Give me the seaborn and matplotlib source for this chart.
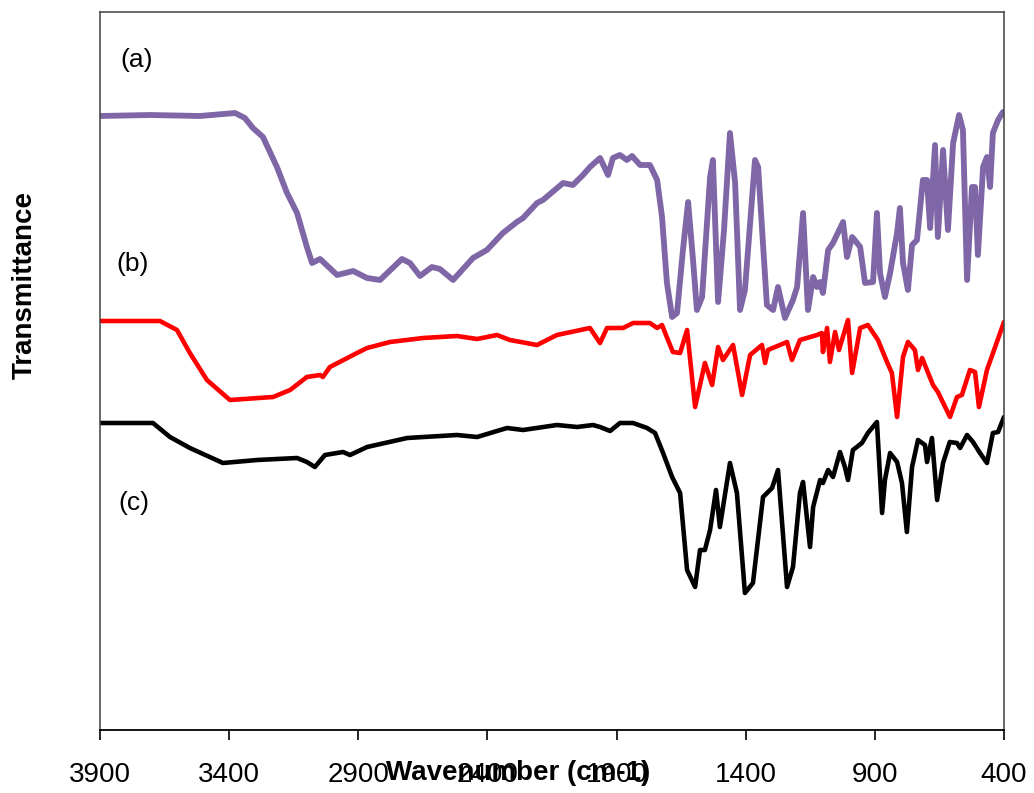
import matplotlib
matplotlib.use("Agg")
import matplotlib.pyplot as plt
import seaborn as sns
import pandas as pd

# ---- data (wavenumber in cm-1, transmittance in arbitrary offset units) ----
wn_a = [3900, 3706, 3513, 3377, 3339, 3308, 3269, 3215, 3176, 3137, 3099, 3079, 3048, 2982,
        2920, 2866, 2816, 2731, 2700, 2661, 2615, 2584, 2533, 2456, 2402, 2340, 2286, 2262,
        2208, 2185, 2107, 2069, 2030, 2003, 1964, 1933, 1914, 1887, 1860, 1840, 1809, 1771,
        1743, 1724, 1705, 1685, 1666, 1643, 1623, 1604, 1589, 1569, 1538, 1527, 1507, 1484,
        1461, 1441, 1422, 1403, 1364, 1352, 1318, 1294, 1275, 1248, 1217, 1201, 1178, 1159,
        1139, 1124, 1112, 1101, 1081, 1062, 1023, 1008, 988, 969, 957, 938, 907, 892, 880,
        861, 841, 814, 803, 791, 772, 756, 737, 714, 698, 686, 667, 656, 636, 617, 597, 574,
        559, 543, 524, 512, 501, 481, 466, 454, 443, 423, 404]
t_a = [614, 615, 614, 617, 612, 602, 593, 563, 537, 517, 483, 467, 471, 455,
       459, 452, 450, 471, 467, 454, 463, 461, 450, 472, 480, 497, 508, 512,
       527, 530, 547, 545, 555, 563, 572, 555, 572, 575, 570, 574, 565, 565,
       550, 513, 447, 413, 417, 480, 528, 470, 420, 433, 553, 570, 428, 500,
       597, 547, 420, 440, 570, 563, 425, 420, 443, 412, 430, 443, 517, 420,
       453, 443, 448, 437, 480, 487, 508, 473, 493, 487, 483, 447, 448, 517, 457,
       433, 457, 497, 522, 467, 440, 485, 490, 550, 550, 502, 585, 493, 580, 500, 587, 615,
       600, 450, 543, 543, 475, 563, 573, 543, 597, 610, 618]

wn_b = [3900, 3668, 3602, 3552, 3486, 3397, 3230, 3164, 3099, 3048, 3037, 3010, 2905, 2866,
        2777, 2649, 2518, 2440, 2363, 2313, 2208, 2131, 2003, 1964, 1937, 1875, 1836, 1771,
        1743, 1724, 1701, 1682, 1654, 1627, 1596, 1558, 1530, 1507, 1488, 1449, 1414, 1383,
        1337, 1325, 1314, 1240, 1221, 1190, 1124, 1105, 1101, 1085, 1074, 1054, 1039, 1004,
        988, 957, 927, 888, 853, 834, 814, 791, 772, 745, 733, 717, 675, 656, 609, 582, 563,
        532, 512, 497, 466, 400]
t_b = [409, 409, 400, 377, 350, 330, 333, 340, 353, 355, 353, 363, 377, 382,
       388, 392, 394, 391, 395, 390, 385, 395, 402, 387, 402, 402, 407, 407,
       402, 405, 390, 378, 377, 400, 323, 367, 345, 383, 370, 385, 335, 375,
       385, 367, 380, 388, 370, 390, 395, 397, 378, 402, 368, 398, 380, 410,
       357, 402, 405, 390, 368, 357, 313, 373, 388, 380, 360, 372, 345, 338, 313, 333, 335,
       360, 358, 323, 360, 408]

wn_c = [3900, 3695, 3629, 3552, 3424, 3292, 3137, 3099, 3068, 3029, 2959, 2932, 2866, 2711,
        2518, 2440, 2324, 2262, 2131, 2053, 1991, 1964, 1925, 1887, 1836, 1782, 1751, 1720,
        1685, 1654, 1627, 1596, 1577, 1558, 1538, 1515, 1500, 1461, 1434, 1403, 1372, 1333,
        1298, 1275, 1240, 1217, 1190, 1178, 1151, 1139, 1112, 1101, 1081, 1062, 1035, 1016,
        1004, 985, 950, 927, 892, 872, 861, 841, 814, 795, 776, 756, 733, 706, 698, 679, 659,
        636, 610, 582, 570, 543, 520, 493, 466, 443, 423, 400]
t_c = [307, 307, 293, 282, 267, 270, 272, 268, 263, 275, 278, 275, 283, 292,
       295, 293, 302, 300, 305, 303, 305, 303, 299, 307, 307, 302, 297, 277,
       253, 237, 160, 143, 180, 180, 200, 240, 203, 267, 237, 137, 147, 233,
       242, 260, 143, 163, 237, 248, 183, 223, 250, 247, 260, 253, 278, 263,
       250, 280, 287, 297, 308, 217, 250, 277, 268, 247, 198, 263, 290, 285, 268, 292, 230,
       267, 288, 287, 282, 295, 288, 277, 267, 297, 298, 313]

xticks = [3900, 3400, 2900, 2400, 1900, 1400, 900, 400]
labels = ["(a)", "(b)", "(c)"]

# ---- plotting ----
sns.set_theme(style="white")
plt.rcParams["font.family"] = ["Liberation Sans", "DejaVu Sans"]
plt.rcParams["text.color"] = "black"
plt.rcParams["axes.labelcolor"] = "black"
plt.rcParams["xtick.color"] = "black"

fig = plt.figure(figsize=(10.34, 7.93), dpi=100)
ax = fig.add_axes([100 / 1034, (793 - 730) / 793, 904 / 1034, 718 / 793])

df_a = pd.DataFrame({"wn": wn_a, "t": t_a})
df_b = pd.DataFrame({"wn": wn_b, "t": t_b})
df_c = pd.DataFrame({"wn": wn_c, "t": t_c})

line_kw = dict(estimator=None, solid_joinstyle="round", solid_capstyle="round")
sns.lineplot(data=df_a, x="wn", y="t", ax=ax, color="#7f66a6", lw=4.2, **line_kw)
sns.lineplot(data=df_b, x="wn", y="t", ax=ax, color="#ff0000", lw=3.3, **line_kw)
sns.lineplot(data=df_c, x="wn", y="t", ax=ax, color="#000000", lw=3.3, **line_kw)

ax.set_xlim(3900, 400)
ax.set_ylim(0, 718)
ax.set_xticks(xticks)
ax.set_xticklabels([str(v) for v in xticks])
ax.set_yticks([])
ax.tick_params(axis="x", direction="out", length=7, width=1.2, color="black",
               labelcolor="black", pad=16, labelsize=20, bottom=True)

for side in ["left", "top", "right"]:
    ax.spines[side].set_color("#404040")
    ax.spines[side].set_linewidth(1.1)
ax.spines["bottom"].set_color("black")
ax.spines["bottom"].set_linewidth(1.3)

ax.set_xlabel("Wavenumber (cm-1)", fontsize=20, fontweight="bold", color="black")
ax.xaxis.label.set_va("center")
ax.xaxis.set_label_coords(0.462, -0.060)
ax.set_ylabel("Transmittance", fontsize=20, fontweight="bold", color="black")
ax.yaxis.label.set_va("center")
ax.yaxis.set_label_coords(-0.083, 0.62)

for lab, (xa, ya) in zip(labels, [(0.040, 0.933), (0.036, 0.649), (0.038, 0.316)]):
    ax.text(xa, ya, lab, transform=ax.transAxes, fontsize=19, ha="center", va="center",
            color="black")

fig.savefig("out.png", dpi=100)
